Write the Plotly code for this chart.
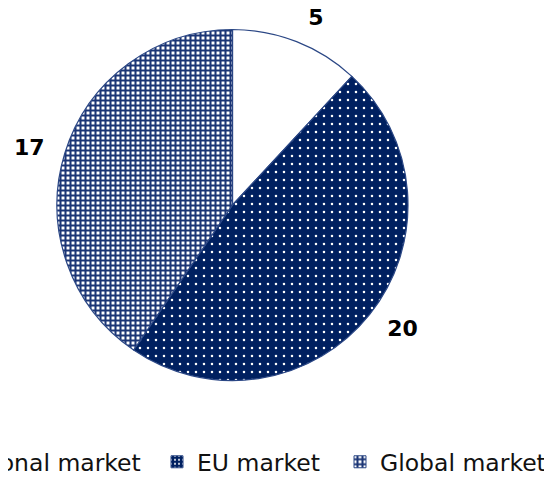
import plotly.graph_objects as go

labels = ["National market", "EU market", "Global market"]
values = [5, 20, 17]

NAVY = "#002060"
LINE = "#2b4785"
HATCH = "#1b3575"

bg_colors = ["#ffffff", NAVY, "#ffffff"]
fg_colors = ["#ffffff", "#ffffff", HATCH]
shapes = ["", ".", "+"]
sizes = [8, 8, 5]
solids = [0.2, 0.08, 0.65]

W, H = 552, 479
OFF = 8  # page body margin shifts the figure by 8px
# pie geometry (pixels, in reference picture coordinates)
cx, cy, r = 232.5 - OFF, 205.0 - OFF, 175.5
r_lab = 190.0
top = cy - r_lab
bot = cy + r_lab
plot_h = bot - top

fig = go.Figure()

# main pie (no text)
fig.add_trace(go.Pie(
    labels=labels, values=values, sort=False, direction="clockwise", rotation=0,
    marker=dict(colors=bg_colors, line=dict(color=LINE, width=1.2),
                pattern=dict(shape=shapes, fgcolor=fg_colors, bgcolor=bg_colors,
                             size=sizes, solidity=solids, fillmode="replace")),
    textinfo="none", showlegend=False, hoverinfo="label+value",
    domain=dict(x=[(cx - r) / W, (cx + r) / W],
                y=[(bot - (cy + r)) / plot_h, (bot - (cy - r)) / plot_h]),
))

# transparent wider pie carrying the outside value labels
fig.add_trace(go.Pie(
    labels=labels, values=values, sort=False, direction="clockwise", rotation=0,
    marker=dict(colors=["rgba(0,0,0,0)"] * 3, line=dict(width=0)),
    textinfo="value", textposition="outside",
    outsidetextfont=dict(family="DejaVu Sans", size=22, color="#000000", weight="bold"),
    showlegend=False, hoverinfo="skip",
    domain=dict(x=[(cx - r_lab) / W, (cx + r_lab) / W], y=[0, 1]),
))

# legend entries (one per legend so each can be placed freely)
legend_ids = ["legend", "legend2", "legend3"]
text_x = [-48, 197, 380]
for i, lab in enumerate(labels):
    fig.add_trace(go.Pie(
        labels=[lab], values=[values[i]], sort=False,
        marker=dict(colors=[bg_colors[i]], line=dict(color=LINE, width=1),
                    pattern=dict(shape=[shapes[i]], fgcolor=[fg_colors[i]], bgcolor=[bg_colors[i]],
                                 size=[4 if i == 1 else sizes[i]], solidity=[0.2 if i == 1 else solids[i]],
                                 fillmode="replace")),
        textinfo="none", hoverinfo="skip", legend=legend_ids[i],
        domain=dict(x=[0.999, 1.0], y=[0.999, 1.0]),
    ))

legend_common = dict(
    xref="paper", yref="paper", xanchor="left", yanchor="middle",
    orientation="h", bgcolor="rgba(0,0,0,0)",
    font=dict(family="DejaVu Sans", size=23.5, color="#111111"),
)
layout_legends = {}
leg_y_px = 462 - OFF
for i, lid in enumerate(legend_ids):
    lx = text_x[i] - OFF - 40
    layout_legends[lid] = dict(legend_common, x=lx / W, y=(bot - leg_y_px) / plot_h)

fig.update_layout(
    width=W, height=H,
    margin=dict(l=0, r=0, t=top, b=H - bot, autoexpand=False),
    paper_bgcolor="white", plot_bgcolor="white",
    **layout_legends,
)

fig.write_html("out.html")
